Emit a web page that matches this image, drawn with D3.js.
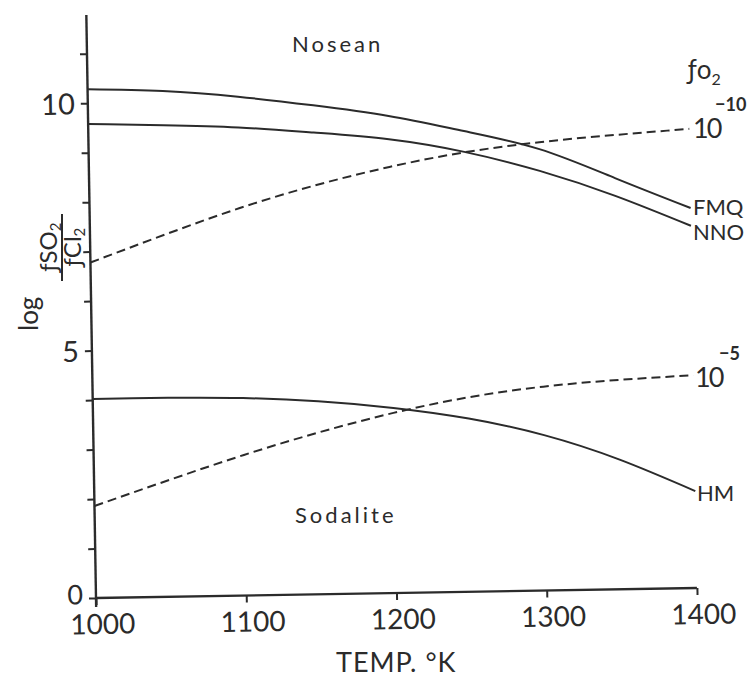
<!DOCTYPE html>
<html><head><meta charset="utf-8">
<script src="https://cdn.jsdelivr.net/npm/d3@7"></script>
<style>
body{margin:0;background:#fff;}
svg{display:block;}
text{font-family:Lato,"DejaVu Sans",sans-serif;fill:#2b2b2b;}
</style></head>
<body><svg id="c" width="752" height="678"></svg>
<script>
// Data
const temps = [1000, 1050, 1100, 1150, 1200, 1250, 1300, 1350, 1400];
const fmq   = [10.28, 10.22, 10.08, 9.88, 9.64, 9.31, 8.92, 8.31, 7.68];
const nno   = [9.58, 9.53, 9.46, 9.33, 9.17, 8.89, 8.48, 7.95, 7.32];
const fo2m10 = [6.78, 7.32, 7.83, 8.26, 8.61, 8.88, 9.06, 9.18, 9.28];
const hm    = [4.02, 4.02, 3.99, 3.90, 3.74, 3.50, 3.14, 2.62, 1.96];
const fo2m5 = [1.86, 2.36, 2.84, 3.27, 3.64, 3.93, 4.12, 4.23, 4.30];
const xTicks = [1000, 1100, 1200, 1300, 1400];
const yTicks = [0,1,2,3,4,5,6,7,8,9,10,11];
const yLabels = [0, 5, 10];

const svg = d3.select("#c");
const W = 601, H = 583;
const x = d3.scaleLinear().domain([1000, 1400]).range([0, W]);
const y = d3.scaleLinear().domain([0, 11.78]).range([0, -H]);

// slightly skewed frame like the scanned original
const g = svg.append("g").attr("transform", "translate(96,598) rotate(-0.95)");

const ink = "#2b2b2b";
// axes lines
g.append("line").attr("x1", x(1000)).attr("x2", x(1400)).attr("y1", y(0)).attr("y2", y(0))
  .attr("stroke", ink).attr("stroke-width", 2.4);
g.append("line").attr("x1", x(1000)).attr("x2", x(1000)).attr("y1", y(-0.18)).attr("y2", y(11.78))
  .attr("stroke", ink).attr("stroke-width", 2.4);

// x axis ticks
const xa = g.append("g").call(d3.axisBottom(x).tickValues(xTicks).tickSize(7).tickSizeOuter(0).tickFormat(d3.format("d")));
xa.select(".domain").remove();
xa.selectAll(".tick line").attr("stroke", ink).attr("stroke-width", 2);
xa.selectAll(".tick text").attr("y", 36).attr("dy", 0).attr("dx", 6)
  .style("font-size", "28px").style("font-family", "Lato, sans-serif").attr("fill", ink);

// y axis ticks
const ya = g.append("g").call(d3.axisLeft(y.copy()).tickValues(yTicks).tickSize(7).tickSizeOuter(0)
  .tickFormat(d => yLabels.includes(d) ? d : ""));
ya.select(".domain").remove();
ya.selectAll(".tick line").attr("stroke", ink).attr("stroke-width", 2);
ya.selectAll(".tick text").attr("x", -13).attr("dy", d => d === 0 ? "0.2em" : "0.36em")
  .style("font-size", d => d === 0 ? "27px" : "29px").style("font-family", "Lato, sans-serif").attr("fill", ink);

// curves
const line = d3.line().x((d, i) => x(temps[i])).y(d => y(d)).curve(d3.curveNatural);
const series = [
  {v: fmq, dash: null}, {v: nno, dash: null}, {v: hm, dash: null},
  {v: fo2m10, dash: "9,5"}, {v: fo2m5, dash: "9,5"}
];
g.selectAll("path.curve").data(series).enter().append("path")
  .attr("class", "curve").attr("d", d => line(d.v)).attr("fill", "none")
  .attr("stroke", ink).attr("stroke-width", 2)
  .attr("stroke-dasharray", d => d.dash);

// annotations
const txt = (X, Y, s, size, extra) => {
  const t = svg.append("text").attr("x", X).attr("y", Y).style("font-size", size + "px").text(s);
  if (extra) extra(t);
  return t;
};
txt(292, 52, "Nosean", 22, t => t.style("letter-spacing", "3px"));
txt(295, 523, "Sodalite", 22, t => t.style("letter-spacing", "3px"));
txt(693, 215, "FMQ", 22);
txt(693, 240, "NNO", 22);
txt(697, 501, "HM", 22);

// 10^-10
txt(693, 138, "10", 27, t => t.style("letter-spacing", "-2px"));
txt(715, 111, "−10", 18, t => t.style("font-weight", "bold"));
// 10^-5
txt(695, 387, "10", 27, t => t.style("letter-spacing", "-2px"));
txt(719, 360, "−5", 18, t => t.style("font-weight", "bold"));

// f O2 legend header
const fo = svg.append("text").attr("x", 688).attr("y", 79).style("font-size", "26px");
fo.append("tspan").text("ƒo");
fo.append("tspan").attr("dy", 6).style("font-size", "16px").text("2");

// x axis title
txt(336, 672, "TEMP. °K", 27, t => t.style("letter-spacing", "1px"));

// y axis title (rotated)
const yl = svg.append("g").attr("transform", "translate(0,331) rotate(-90)");
yl.append("text").attr("x", 0).attr("y", 38).style("font-size", "26px").text("log");
yl.append("line").attr("x1", 50).attr("x2", 117).attr("y1", 62).attr("y2", 62)
  .attr("stroke", ink).attr("stroke-width", 2);
const num = yl.append("text").attr("x", 84).attr("y", 57).attr("text-anchor", "middle").style("font-size", "24px");
num.append("tspan").text("ƒSO");
num.append("tspan").attr("dy", 4).style("font-size", "15px").text("2");
const den = yl.append("text").attr("x", 84).attr("y", 81).attr("text-anchor", "middle").style("font-size", "24px");
den.append("tspan").text("ƒCl");
den.append("tspan").attr("dy", 4).style("font-size", "15px").text("2");
</script></body></html>
